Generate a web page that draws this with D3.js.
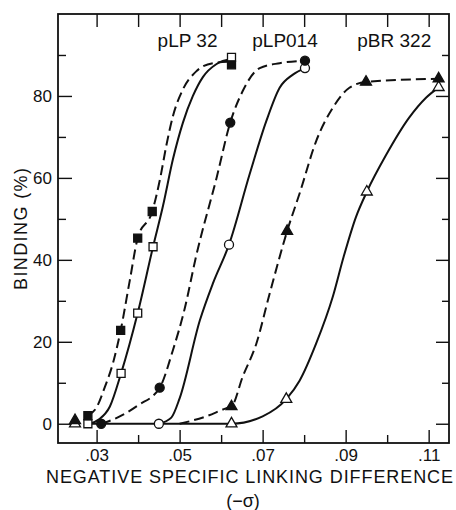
<!DOCTYPE html>
<html>
<head>
<meta charset="utf-8">
<script src="https://cdn.jsdelivr.net/npm/d3@7"></script>
<style>
  body { margin: 0; background: #fff; }
</style>
</head>
<body>
<div id="chart"></div>
<script>
// Tick values
const xTicksMajor = [0.03, 0.05, 0.07, 0.09, 0.11]
const xTicksMinor = [0.04, 0.06, 0.08, 0.10]
const xTicksTop = [0.03, 0.04, 0.05, 0.06, 0.07, 0.08, 0.09, 0.10, 0.11]
const yTicksMajor = [0, 20, 40, 60, 80]
const yTicksMinor = [10, 30, 50, 70, 90]

// Plasmid labels
const plasmids = ['pLP 32', 'pLP014', 'pBR 322']
const plasmidLabelX = [0.0447, 0.0675, 0.0928]

// Measured points [linking difference, binding %]
const pLP32Filled = [[0.0279, 2.0], [0.0358, 22.8], [0.0399, 45.3], [0.0434, 51.8], [0.0625, 87.6]]
const pLP32Open = [[0.0279, 0], [0.0359, 12.3], [0.0399, 27.0], [0.0436, 43.2], [0.0625, 89.4]]
const pLP014Filled = [[0.0311, 0], [0.0452, 8.8], [0.0622, 73.5], [0.0802, 88.6]]
const pLP014Open = [[0.0450, 0], [0.0619, 43.7], [0.0802, 86.8]]
const pBR322Filled = [[0.0248, 0.8], [0.0625, 4.2], [0.0759, 47.0], [0.0949, 83.4], [0.1124, 84.2]]
const pBR322Open = [[0.0248, 0], [0.0625, 0], [0.0757, 6.0], [0.0951, 56.6], [0.1124, 82.1]]

// Hand drawn curves
const pLP32Dashed = [[0.0279, 2], [0.0300, 4], [0.0320, 9], [0.0340, 15], [0.0358, 22.8], [0.0380, 35], [0.0399, 45.3],
  [0.0434, 51.8], [0.0453, 59.8], [0.0468, 67.9], [0.0484, 75.1], [0.0508, 81.6], [0.0540, 86], [0.0580, 88], [0.0625, 88.4]]
const pLP32Solid = [[0.0284, 0], [0.0305, 1], [0.0332, 4.2], [0.0359, 12.3], [0.0399, 27], [0.0436, 43.2], [0.0460, 53.2],
  [0.0484, 64.6], [0.0508, 73.5], [0.0532, 80], [0.0556, 84.6], [0.0589, 87.8], [0.0625, 89]]
const pLP014Dashed = [[0.0311, 0], [0.0350, 1.5], [0.0400, 4.5], [0.0452, 8.8], [0.0484, 18], [0.0512, 28], [0.0540, 41],
  [0.0589, 60], [0.0622, 73.5], [0.0652, 81.2], [0.0693, 86.8], [0.0741, 88], [0.0802, 88.6]]
const pLP014Solid = [[0.0450, 0], [0.0480, 1.5], [0.0500, 6.2], [0.0549, 25.3], [0.0580, 34.2], [0.0619, 43.7], [0.0669, 61],
  [0.0709, 73.9], [0.0741, 82], [0.0773, 85.2], [0.0802, 86.8]]
const pBR322Dashed = [[0.0500, 0], [0.0564, 1.8], [0.0613, 3.8], [0.0625, 4.2], [0.0652, 11.5], [0.0685, 19.6], [0.0717, 31.8],
  [0.0759, 47], [0.0790, 56.5], [0.0829, 69], [0.0869, 77.1], [0.0909, 82], [0.0949, 83.4], [0.1124, 84.2]]
const pBR322Solid = [[0.0284, 0], [0.0625, 0], [0.0700, 1.8], [0.0757, 6], [0.0789, 10.5], [0.0829, 19.6], [0.0869, 31],
  [0.0895, 40.7], [0.0925, 50.5], [0.0951, 56.6], [0.0997, 65.5], [0.1053, 74.7], [0.1093, 79.5], [0.1124, 82.1]]

const width = 456
const height = 510
const margin = {left: 58, right: 7, top: 14, bottom: 67}
const w = width - margin.left - margin.right
const h = height - margin.top - margin.bottom
const font = '"Liberation Sans", Arial, sans-serif'

const svg = d3.select('#chart')
  .append('svg')
  .attr('width', width)
  .attr('height', height)
  .style('font-family', font)

const x = d3.scaleLinear().domain([0.0207, 0.1149]).range([0, w])
const y = d3.scaleLinear().domain([-4.7, 100]).range([h, 0])

const g = svg.append('g')
  .attr('transform', `translate(${margin.left},${margin.top})`)

const fmtX = d => d3.format('.2f')(d).replace(/^0/, '')

// Axes, ticks point inward
g.append('g')
  .attr('transform', `translate(0,${h})`)
  .call(d3.axisBottom(x).tickValues(xTicksMajor).tickSize(-13).tickSizeOuter(0).tickPadding(6).tickFormat(fmtX))
g.append('g')
  .attr('transform', `translate(0,${h})`)
  .call(d3.axisBottom(x).tickValues(xTicksMinor).tickSize(-8).tickSizeOuter(0).tickFormat(''))
g.append('g')
  .call(d3.axisTop(x).tickValues(xTicksTop).tickSize(-13).tickSizeOuter(0).tickFormat(''))
g.append('g')
  .call(d3.axisLeft(y).tickValues(yTicksMajor).tickSize(-14).tickSizeOuter(0).tickPadding(6))
g.append('g')
  .call(d3.axisLeft(y).tickValues(yTicksMinor).tickSize(-8).tickSizeOuter(0).tickFormat(''))
g.append('g')
  .attr('transform', `translate(${w},0)`)
  .call(d3.axisRight(y).tickValues(yTicksMajor).tickSize(-13).tickSizeOuter(0).tickFormat(''))
g.append('g')
  .attr('transform', `translate(${w},0)`)
  .call(d3.axisRight(y).tickValues(yTicksMinor).tickSize(-7).tickSizeOuter(0).tickFormat(''))

g.selectAll('.domain').remove()
g.selectAll('.tick line').attr('stroke', '#111').attr('stroke-width', 1.4)
g.selectAll('.tick text')
  .attr('fill', '#111')
  .style('font-size', '17px')
  .style('font-family', font)

// Frame
g.append('rect')
  .attr('width', w)
  .attr('height', h)
  .attr('fill', 'none')
  .attr('stroke', '#111')
  .attr('stroke-width', 1.8)

// Curves
const line = d3.line()
  .curve(d3.curveMonotoneX)
  .x(d => x(d[0]))
  .y(d => y(d[1]))

const curves = [
  {data: pLP32Dashed, dash: '10,5'},
  {data: pLP32Solid, dash: null},
  {data: pLP014Dashed, dash: '10,5'},
  {data: pLP014Solid, dash: null},
  {data: pBR322Dashed, dash: '10,5'},
  {data: pBR322Solid, dash: null}
]

g.selectAll('.curve')
  .data(curves)
  .join('path')
  .attr('class', 'curve')
  .attr('d', d => line(d.data))
  .attr('fill', 'none')
  .attr('stroke', '#111')
  .attr('stroke-width', 2)
  .attr('stroke-dasharray', d => d.dash)

// Markers
const markers = [
  {data: pBR322Open, type: d3.symbolTriangle, size: 52, fill: '#fff'},
  {data: pBR322Filled, type: d3.symbolTriangle, size: 52, fill: '#111'},
  {data: pLP014Open, type: d3.symbolCircle, size: 64, fill: '#fff'},
  {data: pLP014Filled, type: d3.symbolCircle, size: 64, fill: '#111'},
  {data: pLP32Open, type: d3.symbolSquare, size: 64, fill: '#fff'},
  {data: pLP32Filled, type: d3.symbolSquare, size: 64, fill: '#111'}
]

markers.forEach(m => {
  g.append('g')
    .selectAll('path')
    .data(m.data)
    .join('path')
    .attr('transform', d => `translate(${x(d[0])},${y(d[1])})`)
    .attr('d', d3.symbol().type(m.type).size(m.size))
    .attr('fill', m.fill)
    .attr('stroke', '#111')
    .attr('stroke-width', 1.3)
})

// Plasmid labels
g.selectAll('.plasmid')
  .data(plasmids)
  .join('text')
  .attr('class', 'plasmid')
  .attr('x', (d, i) => x(plasmidLabelX[i]))
  .attr('y', 33)
  .style('font-size', '19px')
  .attr('fill', '#111')
  .text(d => d)

// Axis titles
svg.append('text')
  .attr('transform', `translate(27,${229}) rotate(-90)`)
  .style('text-anchor', 'middle')
  .style('font-size', '18px')
  .attr('fill', '#111')
  .attr('textLength', 122)
  .attr('lengthAdjust', 'spacing')
  .text('BINDING (%)')

svg.append('text')
  .attr('x', 46)
  .attr('y', 483)
  .style('font-size', '18px')
  .attr('fill', '#111')
  .attr('textLength', 407)
  .attr('lengthAdjust', 'spacing')
  .text('NEGATIVE SPECIFIC LINKING DIFFERENCE')

svg.append('text')
  .attr('x', 243)
  .attr('y', 507)
  .style('text-anchor', 'middle')
  .style('font-size', '18px')
  .attr('fill', '#111')
  .text('(−σ)')
</script>
</body>
</html>
